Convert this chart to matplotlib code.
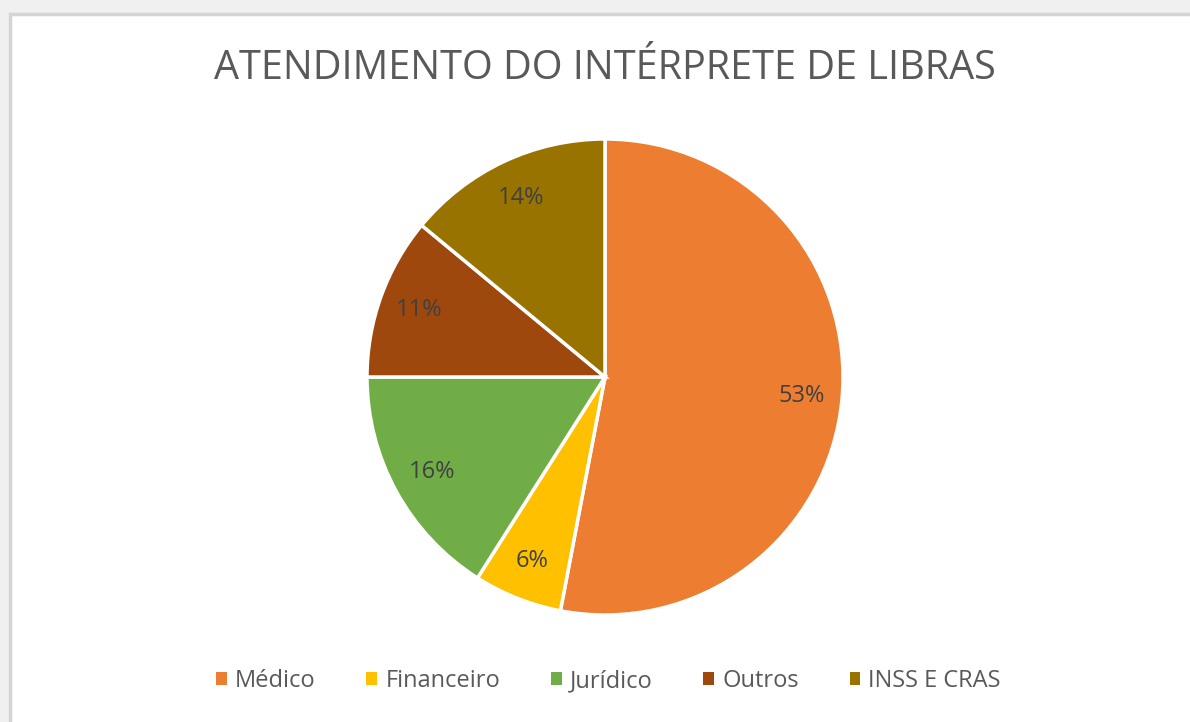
import matplotlib
matplotlib.use("Agg")
import matplotlib.pyplot as plt
from matplotlib.patches import Rectangle

categories = ["Médico", "Financeiro", "Jurídico", "Outros", "INSS E CRAS"]
values = [53, 6, 16, 11, 14]
colors = ["#ED7D31", "#FFC000", "#70AD47", "#9E480E", "#997300"]
title = "ATENDIMENTO DO INTÉRPRETE DE LIBRAS"

plt.rcParams['font.family'] = ['Open Sans', 'DejaVu Sans']

W, H = 1190, 722
fig = plt.figure(figsize=(W / 100, H / 100), dpi=100)
fig.patch.set_facecolor("#f0f0f0")

# chart area (white with light gray border)
bg = Rectangle((10 / W, -0.1), 1.2, (H - 14) / H + 0.1,
               transform=fig.transFigure, facecolor="white",
               edgecolor="#d4d4d4", linewidth=2.5, zorder=-10)
fig.add_artist(bg)

cx, cy, r = 605, H - 377, 238
ax = fig.add_axes([(cx - r) / W, (cy - r) / H, 2 * r / W, 2 * r / H])
ax.set_zorder(5)
ax.patch.set_visible(False)
wedges, texts, autotexts = ax.pie(
    values, colors=colors, startangle=90, counterclock=False,
    autopct=lambda p: f"{p:.0f}%", pctdistance=0.83,
    wedgeprops=dict(edgecolor="white", linewidth=2.5),
    textprops=dict(color="#404040", fontsize=17))
ax.set_xlim(-1, 1)
ax.set_ylim(-1, 1)
ax.set_aspect("equal")
ax.axis("off")

fig.text(cx / W, 1 - 69 / H, title, ha="center", va="center",
         fontsize=28.5, color="#595959", zorder=6)

leg = fig.legend(wedges, categories, loc="center", bbox_to_anchor=(cx / W + 0.003, 1 - 681 / H),
                 ncol=5, frameon=False, fontsize=17, handlelength=0.45, handleheight=0.45,
                 handletextpad=0.35, columnspacing=2.15, labelcolor="#595959")
leg.set_zorder(6)
for h in leg.legend_handles:
    h.set_edgecolor("none")

fig.savefig("out.png", dpi=100, facecolor=fig.get_facecolor())
